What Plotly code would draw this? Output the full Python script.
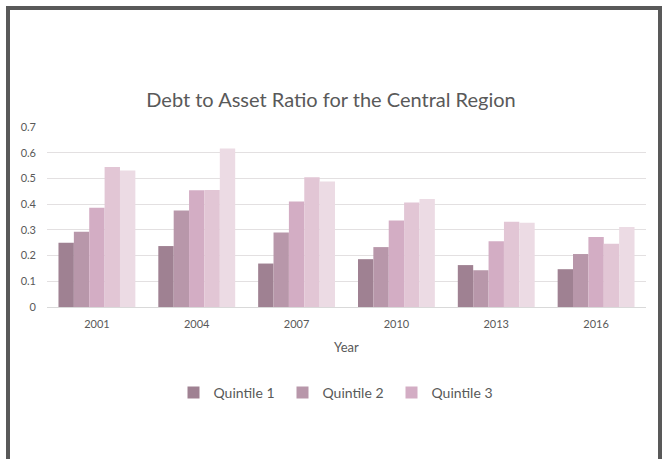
import plotly.graph_objects as go

years = ["2001", "2004", "2007", "2010", "2013", "2016"]
series_names = ["Quintile 1", "Quintile 2", "Quintile 3", "Quintile 4", "Quintile 5"]
q1 = [0.250, 0.237, 0.169, 0.186, 0.163, 0.147]
q2 = [0.293, 0.375, 0.290, 0.233, 0.143, 0.206]
q3 = [0.386, 0.454, 0.410, 0.336, 0.256, 0.272]
q4 = [0.544, 0.455, 0.505, 0.406, 0.332, 0.246]
q5 = [0.531, 0.616, 0.488, 0.420, 0.328, 0.311]
series_values = [q1, q2, q3, q4, q5]
y_ticks = [0, 0.1, 0.2, 0.3, 0.4, 0.5, 0.6, 0.7]
y_tick_labels = ["0", "0.1", "0.2", "0.3", "0.4", "0.5", "0.6", "0.7"]

colors = ["#9f8192", "#b897aa", "#d3adc4", "#e2c6d5", "#ecdbe4"]
show_legend = [True, True, True, False, False]

fig = go.Figure()
for name, vals, c, sl in zip(series_names, series_values, colors, show_legend):
    fig.add_trace(go.Bar(x=years, y=vals, name=name, marker_color=c,
                         marker_line_width=0, showlegend=sl))

W, H = 670, 459
L, R, T, B = 47, 24, 127, 152
pw = W - L - R
ph = H - T - B

def px_x(x):
    return (x - L) / pw

def px_y(y):
    return (H - B - y) / ph

fig.update_layout(
    width=W, height=H,
    margin=dict(l=L, r=R, t=T, b=B, autoexpand=False),
    paper_bgcolor="white", plot_bgcolor="white",
    barmode="group", bargap=0.23, bargroupgap=0,
    font=dict(family="Lato, Carlito, sans-serif", color="#595959"),
    title=dict(text="Debt to Asset Ratio for the Central Region",
               x=331 / W, xref="container", xanchor="center",
               y=1 - 100 / H, yanchor="middle", yref="container",
               font=dict(size=20, color="#595959")),
    xaxis=dict(showgrid=False, showline=True, linecolor="#d9d9d9", linewidth=1,
               ticks="", ticklabelstandoff=7,
               tickfont=dict(size=11, color="#595959"), fixedrange=True),
    yaxis=dict(range=[0, 0.7], tickvals=y_ticks, ticktext=y_tick_labels,
               showgrid=True, gridcolor="#e3e0e1", gridwidth=1, zeroline=False,
               showline=False, ticks="", ticklabelstandoff=10,
               tickfont=dict(size=11, color="#595959")),
    legend=dict(orientation="h", x=px_x(337), xanchor="center", y=px_y(393),
                yanchor="middle", font=dict(size=14, color="#595959"),
                itemwidth=30, entrywidth=64, traceorder="normal",
                bgcolor="rgba(0,0,0,0)"),
    annotations=[dict(text="Year", x=0.5, y=px_y(347), xref="paper", yref="paper",
                      xanchor="center", yanchor="middle",
                      showarrow=False, font=dict(size=13, color="#595959"))],
    shapes=[dict(type="rect", xref="paper", yref="paper",
                 x0=px_x(8), x1=px_x(660), y0=px_y(8), y1=px_y(480),
                 line=dict(color="#595959", width=4), fillcolor="rgba(0,0,0,0)",
                 layer="below")],
)

fig.write_html("out.html", config={"displayModeBar": False},
               post_script="document.body.style.margin='0px';document.body.style.overflow='hidden';")
